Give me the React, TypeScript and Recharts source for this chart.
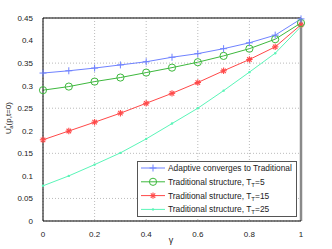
import React from "react";
import {
  LineChart,
  Line,
  XAxis,
  YAxis,
  CartesianGrid,
  ReferenceLine,
} from "recharts";

const gammas = [0, 0.1, 0.2, 0.3, 0.4, 0.5, 0.6, 0.7, 0.8, 0.9, 1];
const adaptive = [0.328, 0.333, 0.339, 0.346, 0.353, 0.363, 0.371, 0.382, 0.395, 0.412, 0.448];
const tradT5 = [0.29, 0.298, 0.309, 0.318, 0.329, 0.34, 0.352, 0.366, 0.382, 0.403, 0.439];
const tradT15 = [0.18, 0.1995, 0.219, 0.239, 0.261, 0.283, 0.307, 0.333, 0.358, 0.386, 0.435];
const tradT25 = [0.078, 0.1, 0.125, 0.151, 0.182, 0.216, 0.25, 0.289, 0.33, 0.372, 0.431];

const xTicks = [0, 0.2, 0.4, 0.6, 0.8, 1];
const yTicks = [0, 0.05, 0.1, 0.15, 0.2, 0.25, 0.3, 0.35, 0.4, 0.45];

const data = gammas.map((g, i) => ({
  g,
  a: adaptive[i],
  t5: tradT5[i],
  t15: tradT15[i],
  t25: tradT25[i],
}));

const FONT = "'Liberation Sans', Arial, sans-serif";
const BLUE = "#6f82ff";
const GREEN = "#3db83d";
const RED = "#ff4848";
const CYAN = "#5af5b8";

function Plus({ cx, cy, c }: any) {
  return (
    <g stroke={c} strokeWidth={1}>
      <line x1={cx - 3.5} y1={cy} x2={cx + 3.5} y2={cy} />
      <line x1={cx} y1={cy - 3.5} x2={cx} y2={cy + 3.5} />
    </g>
  );
}

function Circ({ cx, cy, c }: any) {
  return <circle cx={cx} cy={cy} r={3.6} fill="none" stroke={c} strokeWidth={1} />;
}

function Star({ cx, cy, c }: any) {
  const r = 3.2;
  const d = r * 0.7;
  return (
    <g stroke={c} strokeWidth={1.1}>
      <line x1={cx - r} y1={cy} x2={cx + r} y2={cy} />
      <line x1={cx} y1={cy - r} x2={cx} y2={cy + r} />
      <line x1={cx - d} y1={cy - d} x2={cx + d} y2={cy + d} />
      <line x1={cx - d} y1={cy + d} x2={cx + d} y2={cy - d} />
    </g>
  );
}

function Dot({ cx, cy, c }: any) {
  return <circle cx={cx} cy={cy} r={1.2} fill={c} />;
}

const legendItems = [
  { label: "Adaptive converges to Traditional", sub: "", tail: "", c: BLUE, M: Plus },
  { label: "Traditional structure, T", sub: "T", tail: "=5", c: GREEN, M: Circ },
  { label: "Traditional structure, T", sub: "T", tail: "=15", c: RED, M: Star },
  { label: "Traditional structure, T", sub: "T", tail: "=25", c: CYAN, M: Dot },
];

function LegendBox() {
  return (
    <svg width={161} height={57} style={{ display: "block" }}>
      <rect x={0.5} y={0.5} width={159} height={55} fill="#fff" stroke="#555" strokeWidth={1} />
      {legendItems.map((it, i) => {
        const y = 7 + i * 13.8;
        const M = it.M;
        return (
          <g key={i}>
            <line x1={4} y1={y} x2={28} y2={y} stroke={it.c} strokeWidth={1} />
            <M cx={16} cy={y} c={it.c} />
            <text x={31} y={y + 3} fontSize={8.4} fontFamily={FONT} fill="#222">
              {it.label}
              {it.sub ? (
                <tspan fontSize={6} dy={2}>
                  {it.sub}
                </tspan>
              ) : null}
              {it.tail ? <tspan dy={-2}>{it.tail}</tspan> : null}
            </text>
          </g>
        );
      })}
    </svg>
  );
}

const tickStyle = { fontSize: 8, fill: "#222", fontFamily: FONT };

export default function App() {
  return (
    <div style={{ position: "absolute", left: 0, top: 0, width: 332, height: 249, background: "#fff" }}>
      <LineChart
        width={332}
        height={249}
        data={data}
        margin={{ top: 18, right: 31, left: 0, bottom: 0 }}
      >
        <CartesianGrid stroke="#aaa" strokeDasharray="1 2" strokeWidth={0.8} />
        <XAxis
          dataKey="g"
          type="number"
          domain={[0, 1]}
          ticks={xTicks}
          height={28}
          tick={tickStyle}
          tickLine={false}
          tickMargin={4}
          stroke="#000"
          label={{
            content: () => (
              <text x={171} y={243} fontSize={9} fontFamily={FONT} fill="#222" textAnchor="middle">
                γ
              </text>
            ),
          }}
        />
        <YAxis
          type="number"
          domain={[0, 0.45]}
          ticks={yTicks}
          width={43}
          tick={tickStyle}
          tickLine={false}
          tickMargin={4}
          stroke="#000"
          label={{
            content: () => (
              <text
                x={11}
                y={118}
                fontSize={8}
                fontFamily={FONT}
                fill="#222"
                textAnchor="middle"
                transform="rotate(-90 11 118)"
              >
                U
                <tspan fontSize={6} dy={-3}>
                  *
                </tspan>
                <tspan fontSize={6} dy={5} dx={-3}>
                  a
                </tspan>
                <tspan dy={-2}>(p,t=0)</tspan>
              </text>
            ),
          }}
        />
        <ReferenceLine y={0.45} stroke="#000" strokeWidth={1} />
        <ReferenceLine x={1} stroke="#8a8a8a" strokeWidth={2.5} />
        <Line dataKey="t25" stroke={CYAN} strokeWidth={1} isAnimationActive={false} dot={(p: any) => <Dot key={p.index} cx={p.cx} cy={p.cy} c={CYAN} />} />
        <Line dataKey="t15" stroke={RED} strokeWidth={1} isAnimationActive={false} dot={(p: any) => <Star key={p.index} cx={p.cx} cy={p.cy} c={RED} />} />
        <Line dataKey="t5" stroke={GREEN} strokeWidth={1} isAnimationActive={false} dot={(p: any) => <Circ key={p.index} cx={p.cx} cy={p.cy} c={GREEN} />} />
        <Line dataKey="a" stroke={BLUE} strokeWidth={1} isAnimationActive={false} dot={(p: any) => <Plus key={p.index} cx={p.cx} cy={p.cy} c={BLUE} />} />
      </LineChart>
      <div style={{ position: "absolute", left: 137, top: 161 }}>
        <LegendBox />
      </div>
    </div>
  );
}
